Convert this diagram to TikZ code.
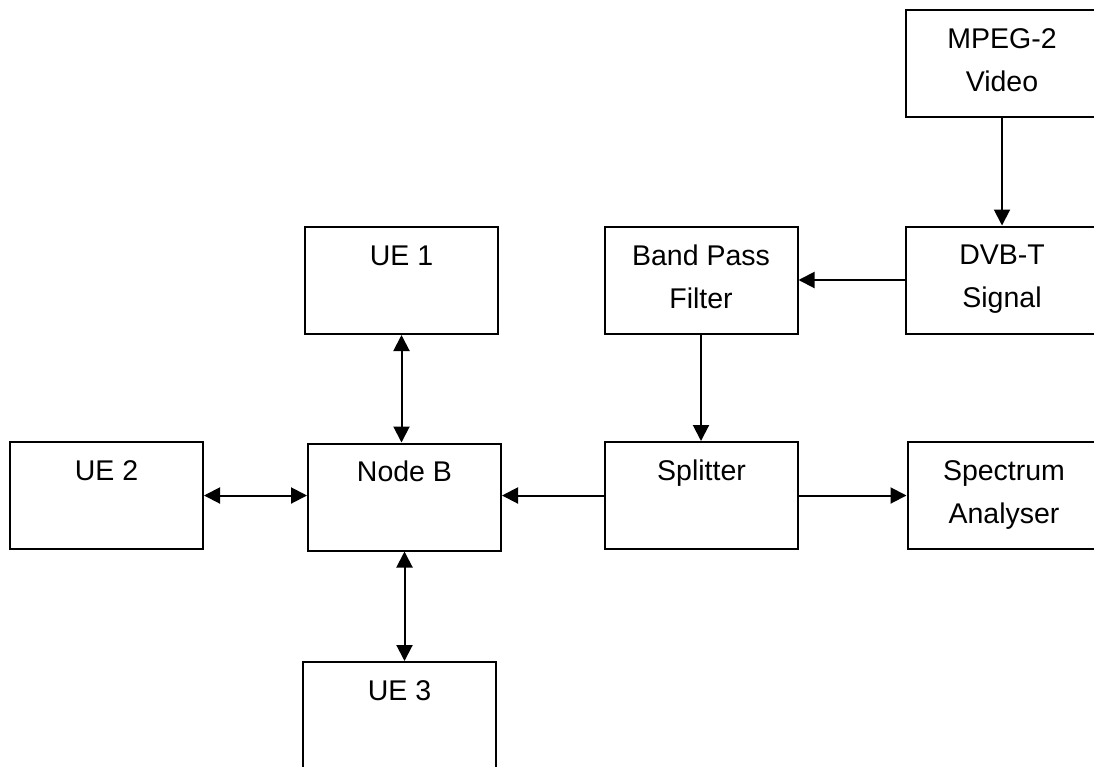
\documentclass[tikz,border=0pt]{standalone}
\usepackage{fontspec}
\setmainfont{Liberation Sans}
\usetikzlibrary{arrows.meta}
\newcommand{\boxtext}[1]{\parbox[c][107pt][t]{193pt}{\centering\fontsize{28.5}{43}\selectfont\rule{0pt}{38pt}#1}}
\tikzset{
  blk/.style={draw, line width=2pt, inner sep=0pt, fill=white},
  conn/.style={line width=2pt, -{Triangle[length=16pt,width=16pt]}},
  bconn/.style={line width=2pt, {Triangle[length=16pt,width=16pt]}-{Triangle[length=16pt,width=16pt]}}
}
\begin{document}
\begin{tikzpicture}[x=1pt,y=-1pt]
\clip (0,0) rectangle (1094,766);
\fill[white] (0,0) rectangle (1094,766);
\node[blk] (mpeg) at (1002,63.5) {\boxtext{MPEG-2\\Video}};
\node[blk] (dvb) at (1002,280) {\boxtext{DVB-T\\Signal}};
\node[blk] (bpf) at (701,280.5) {\boxtext{Band Pass\\Filter}};
\node[blk] (ue1) at (401.5,280.5) {\boxtext{UE 1}};
\node[blk] (ue2) at (106.5,495.5) {\boxtext{UE 2}};
\node[blk] (nodeb) at (404.5,497) {\boxtext{Node B}};
\node[blk] (split) at (701.5,495.5) {\boxtext{Splitter}};
\node[blk] (spec) at (1004,495.5) {\boxtext{Spectrum\\Analyser}};
\node[blk] (ue3) at (399.5,715.5) {\boxtext{UE 3}};
\draw[conn] (mpeg.south) -- (mpeg.south |- dvb.north);
\draw[conn] (dvb.west) -- (dvb.west -| bpf.east);
\draw[conn] (bpf.south) -- (bpf.south |- split.north);
\draw[conn] (split.west) -- (split.west -| nodeb.east);
\draw[conn] (split.east) -- (split.east -| spec.west);
\draw[bconn] (ue1.south) -- (ue1.south |- nodeb.north);
\draw[bconn] (ue2.east) -- (ue2.east -| nodeb.west);
\draw[bconn] (nodeb.south) -- (nodeb.south |- ue3.north);
\end{tikzpicture}
\end{document}
